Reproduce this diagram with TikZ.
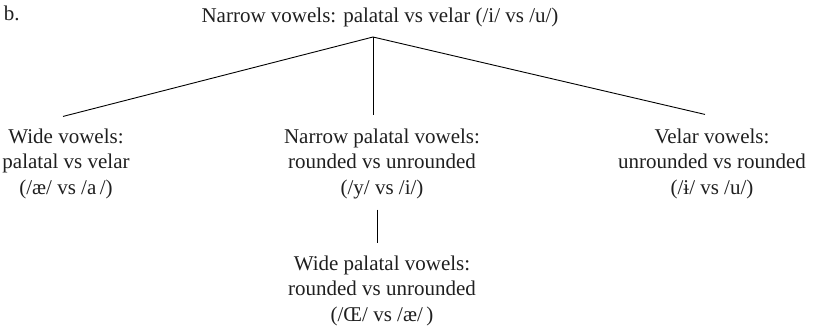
\documentclass[tikz,border=0pt]{standalone}
\usepackage{fontspec}
\setmainfont{Liberation Serif}
\begin{document}
\begin{tikzpicture}[x=1pt,y=-1pt,
  every node/.style={inner sep=0pt, outer sep=0pt,
    font=\fontsize{21}{25.5}\selectfont, text=black!88},
  block/.style={align=center, anchor=base},
  branch/.style={draw=black, line width=0.9pt}]
\useasboundingbox (0,0) rectangle (814,332);

% panel label and root of the tree
\node[anchor=base west] (label) at (4,20) {b.};
\node[anchor=base] (root) at (380,23) {Narrow vowels: palatal vs velar (/i/ vs /u/)};
\coordinate (apex) at (373,37);

% first level (the base anchor sits on the last line)
\node[block] (wide) at (66,194) {Wide vowels:\\palatal vs velar\\(/æ/ vs /a\,/)};
\node[block] (narrowpal) at (382,194) {Narrow palatal vowels:\\rounded vs unrounded\\(/y/ vs /i/)};
\node[block] (velar) at (712,194) {Velar vowels:\\unrounded vs rounded\\(/ɨ/ vs /u/)};

% second level
\node[block] (widepal) at (382,321) {Wide palatal vowels:\\rounded vs unrounded\\(/Œ/ vs /æ/\,)};

% branches
\draw[branch] (apex) -- ([shift={(-3,-12)}]wide.north);
\draw[branch] (apex) -- ([shift={(-9,-13)}]narrowpal.north);
\draw[branch] (apex) -- ([shift={(-7,-14)}]velar.north);
\draw[branch] ([shift={(-5,11)}]narrowpal.south) -- ([shift={(-5,-12.5)}]widepal.north);
\end{tikzpicture}
\end{document}
